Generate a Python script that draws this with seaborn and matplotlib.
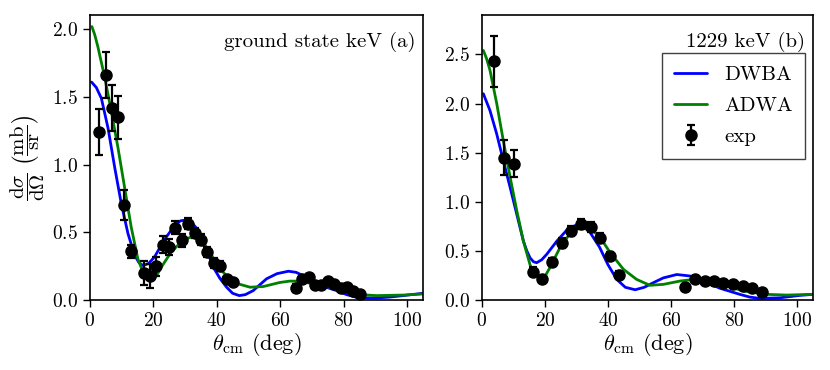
import numpy as np
import pandas as pd
import matplotlib
matplotlib.use("Agg")
import matplotlib.pyplot as plt
import seaborn as sns

# experimental points, ground state (a)
gs_theta = [2.8, 4.9, 6.8, 8.9, 10.8, 12.8, 17.0, 18.9, 20.9, 22.9, 24.9, 26.9, 29.0, 31.0,
            33.1, 35.0, 37.0, 39.0, 41.1, 43.1, 45.0,
            65.0, 66.9, 69.0, 71.0, 72.9, 75.0, 77.1, 79.1, 81.1, 83.1, 85.2]
gs_xs = [1.24, 1.66, 1.42, 1.35, 0.70, 0.36, 0.20, 0.18, 0.25, 0.41, 0.39, 0.535, 0.44, 0.565,
         0.495, 0.446, 0.354, 0.275, 0.25, 0.152, 0.137,
         0.087, 0.157, 0.169, 0.113, 0.113, 0.139, 0.12, 0.09, 0.095, 0.065, 0.046]
gs_err = [0.17, 0.17, 0.17, 0.16, 0.11, 0.05, 0.09, 0.09, 0.07, 0.06, 0.06, 0.05, 0.05, 0.04,
          0.04, 0.04, 0.035, 0.035, 0.035, 0.02, 0.02,
          0.03, 0.02, 0.02, 0.02, 0.02, 0.02, 0.02, 0.02, 0.02, 0.02, 0.02]

# theory curves, ground state
gs_dwba_theta = [0.5, 2.0, 3.6, 5.7, 7.8, 9.9, 12.0, 14.1, 15.5, 16.7, 18.5, 20.4, 23.6, 26.7,
                 28.5, 29.9, 32.0, 34.0, 36.0, 38.9, 41.0, 43.1, 45.0, 47.1, 49.0, 51.5, 55.7,
                 59.0, 62.6, 65.0, 67.3, 71.5, 74.5, 77.8, 81.0, 84.1, 87.0, 90.4, 94.5, 98.8,
                 105.0]
gs_dwba = [1.61, 1.57, 1.49, 1.27, 0.98, 0.71, 0.49, 0.33, 0.275, 0.255, 0.27, 0.32, 0.45, 0.55,
           0.585, 0.59, 0.575, 0.52, 0.42, 0.243, 0.16, 0.095, 0.05, 0.033, 0.04, 0.07, 0.157,
           0.195, 0.213, 0.205, 0.18, 0.12, 0.095, 0.07, 0.04, 0.02, 0.016, 0.016, 0.022, 0.033,
           0.05]
gs_adwa_theta = [0.6, 1.5, 2.5, 4.6, 6.7, 8.8, 10.9, 13.0, 15.1, 16.5, 17.8, 19.9, 21.0, 22.5,
                 25.6, 28.8, 30.5, 32.0, 33.5, 35.1, 36.8, 41.0, 45.2, 50.5, 54.7, 59.9, 63.0,
                 65.2, 69.4, 75.7, 80.0, 85.2, 90.4, 98.8, 105.0]
gs_adwa = [2.02, 1.96, 1.87, 1.65, 1.40, 1.13, 0.835, 0.54, 0.305, 0.22, 0.17, 0.15, 0.18, 0.243,
           0.354, 0.43, 0.455, 0.465, 0.46, 0.44, 0.39, 0.23, 0.13, 0.095, 0.10, 0.13, 0.14,
           0.14, 0.125, 0.095, 0.065, 0.04, 0.033, 0.037, 0.045]

# experimental points, 1229 keV (b)
ex_theta = [4.0, 7.1, 10.1, 16.2, 19.2, 22.3, 25.4, 28.3, 31.5, 34.5, 37.5, 40.6, 43.5,
            64.4, 67.6, 70.6, 73.6, 76.6, 79.7, 82.7, 85.7, 88.7]
ex_xs = [2.43, 1.449, 1.388, 0.29, 0.214, 0.39, 0.578, 0.70, 0.772, 0.745, 0.636, 0.446, 0.26,
         0.133, 0.211, 0.194, 0.194, 0.177, 0.167, 0.143, 0.126, 0.08]
ex_err = [0.26, 0.18, 0.14, 0.05, 0.03, 0.04, 0.05, 0.05, 0.05, 0.05, 0.05, 0.04, 0.04,
          0.02, 0.02, 0.02, 0.02, 0.02, 0.02, 0.02, 0.02, 0.02]

# theory curves, 1229 keV
ex_dwba_theta = [0.5, 2.6, 4.75, 6.85, 9.0, 11.1, 13.2, 14.3, 15.3, 16.4, 17.4, 19.0, 20.6, 23.8,
                 26.9, 28.5, 30.1, 32.3, 34.3, 37.3, 40.0, 42.8, 45.5, 48.6, 51.5, 54.4, 57.5,
                 61.8, 66.0, 70.2, 75.5, 81.8, 85.0, 88.2, 94.5, 100.9, 105.0]
ex_dwba = [2.10, 1.93, 1.69, 1.418, 1.146, 0.874, 0.60, 0.50, 0.43, 0.39, 0.38, 0.41, 0.466,
           0.60, 0.71, 0.745, 0.762, 0.745, 0.69, 0.54, 0.36, 0.21, 0.13, 0.105, 0.13, 0.177,
           0.225, 0.26, 0.245, 0.194, 0.12, 0.058, 0.03, 0.017, 0.023, 0.048, 0.058]
ex_adwa_theta = [0.5, 1.5, 2.6, 4.75, 6.85, 9.0, 11.1, 13.2, 15.3, 16.4, 17.4, 19.0, 20.2, 21.6,
                 24.8, 28.0, 31.2, 33.5, 35.9, 38.5, 40.7, 44.9, 49.1, 53.3, 57.6, 62.9, 67.1,
                 71.3, 75.5, 82.9, 90.3, 96.7, 105.0]
ex_adwa = [2.54, 2.46, 2.34, 2.0, 1.62, 1.25, 0.91, 0.60, 0.36, 0.28, 0.245, 0.22, 0.25, 0.33,
           0.534, 0.677, 0.738, 0.735, 0.687, 0.59, 0.483, 0.313, 0.21, 0.15, 0.16, 0.194, 0.21,
           0.194, 0.167, 0.092, 0.058, 0.051, 0.058]

sns.set_style("ticks")
plt.rcParams["font.family"] = ["cmr10", "DejaVu Serif"]
plt.rcParams["mathtext.fontset"] = "cm"
plt.rcParams["axes.formatter.use_mathtext"] = True
plt.rcParams["axes.edgecolor"] = "black"
plt.rcParams["xtick.color"] = "black"
plt.rcParams["ytick.color"] = "black"
plt.rcParams["text.color"] = "black"
plt.rcParams["axes.labelcolor"] = "black"

fig = plt.figure(figsize=(8.3, 3.7), dpi=100)
ax1 = fig.add_axes([0.1084, 0.189, 0.401, 0.7703])
ax2 = fig.add_axes([0.5804, 0.189, 0.3992, 0.7703])

panels = [
    (ax1, gs_dwba_theta, gs_dwba, gs_adwa_theta, gs_adwa, gs_theta, gs_xs, gs_err,
     "ground state keV (a)", 2.105, [0, 0.5, 1.0, 1.5, 2.0]),
    (ax2, ex_dwba_theta, ex_dwba, ex_adwa_theta, ex_adwa, ex_theta, ex_xs, ex_err,
     "1229 keV (b)", 2.9, [0, 0.5, 1.0, 1.5, 2.0, 2.5]),
]

for ax, dt, dv, at, av, et, ev, ee, title, ytop, yt in panels:
    d1 = pd.DataFrame({"theta": dt, "xs": dv})
    d2 = pd.DataFrame({"theta": at, "xs": av})
    sns.lineplot(data=d1, x="theta", y="xs", ax=ax, color="blue", lw=2, label="DWBA")
    sns.lineplot(data=d2, x="theta", y="xs", ax=ax, color="green", lw=2, label="ADWA")
    ax.errorbar(et, ev, yerr=ee, fmt="o", color="black", ms=8, capsize=3,
                elinewidth=1.6, capthick=1.6, label="exp", zorder=3)
    ax.set_xlim(0, 105)
    ax.set_ylim(0, ytop)
    ax.set_yticks(yt)
    ax.set_xticks([0, 20, 40, 60, 80, 100])
    ax.tick_params(labelsize=14, length=5, width=1, direction="out")
    ax.set_xlabel(r"$\theta_{\rm cm}$ (deg)", fontsize=16, labelpad=1)
    ax.set_ylabel("")
    ax.text(0.977, 0.905, title, transform=ax.transAxes, ha="right", va="center", fontsize=15)
    for s in ax.spines.values():
        s.set_linewidth(1.2)

ax1.set_ylabel(r"$\dfrac{\mathrm{d}\sigma}{\mathrm{d}\Omega}\ \left(\dfrac{\mathrm{mb}}{\mathrm{sr}}\right)$",
               fontsize=15, labelpad=4)
ax1.get_legend().remove()
leg = ax2.legend(loc="upper right", bbox_to_anchor=(0.976, 0.867), borderaxespad=0,
                 fontsize=15, frameon=True, fancybox=False, edgecolor="0.25", framealpha=1,
                 handlelength=1.6, handletextpad=0.8, borderpad=0.6, labelspacing=0.6)
leg.get_frame().set_linewidth(1.0)

fig.savefig("out.png", dpi=100)
